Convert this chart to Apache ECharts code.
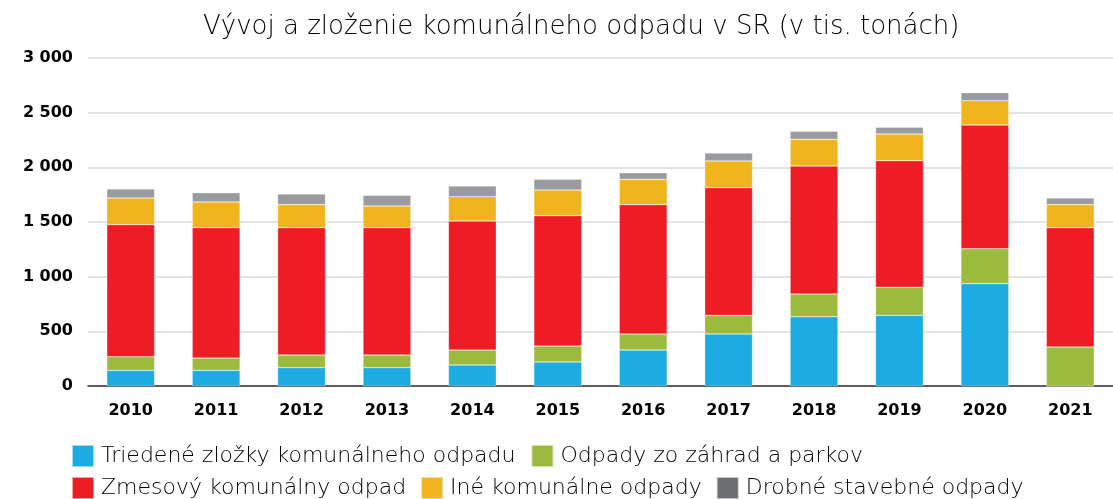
<!DOCTYPE html>
<html>
<head>
<meta charset="utf-8">
<script src="https://cdn.jsdelivr.net/npm/echarts@6/dist/echarts.min.js"></script>
<style>
  html, body { margin: 0; padding: 0; background: #fff; }
  #main { width: 1113px; height: 499px; }
</style>
</head>
<body>
<div id="main"></div>
<script>
var years = ['2010', '2011', '2012', '2013', '2014', '2015', '2016', '2017', '2018', '2019', '2020', '2021'];
// v tis. tonách
var triedene = [143, 143, 168, 168, 192, 220, 329, 476, 634, 646, 936, 0];
var zahrady = [125, 113, 116, 116, 137, 146, 147, 170, 208, 257, 320, 357];
var zmesovy = [1208, 1192, 1164, 1164, 1180, 1192, 1183, 1168, 1170, 1158, 1131, 1091];
var ine = [244, 235, 211, 198, 223, 235, 231, 244, 244, 244, 223, 211];
var drobne = [82, 85, 97, 98, 97, 97, 61, 73, 73, 61, 73, 61];

var names = ['Triedené zložky komunálneho odpadu', 'Odpady zo záhrad a parkov',
  'Zmesový komunálny odpad', 'Iné komunálne odpady', 'Drobné stavebné odpady'];
var colors = ['#1DABE2', '#9BBB3F', '#EE1C25', '#F0B41F', '#999B9E'];
var values = [triedene, zahrady, zmesovy, ine, drobne];

var myChart = echarts.init(document.getElementById('main'));

var legendText = { fontFamily: 'DejaVu Sans', fontWeight: 300, fontSize: 22, color: '#000', padding: [0, 0, 0, 2] };

var option = {
  animation: false,
  title: {
    text: 'Vývoj a zloženie komunálneho odpadu v SR (v tis. tonách)',
    left: 198,
    top: 9,
    textStyle: { fontFamily: 'DejaVu Sans', fontWeight: 300, fontSize: 26, color: '#000' }
  },
  legend: [{
    left: 71, top: 444, padding: 0, itemWidth: 22, itemHeight: 22, itemGap: 15,
    icon: 'rect', textStyle: legendText,
    data: [names[0], names[1]]
  }, {
    left: 71, top: 476, padding: 0, itemWidth: 22, itemHeight: 22, itemGap: 14,
    icon: 'rect', textStyle: legendText,
    data: [names[2], names[3], { name: names[4], itemStyle: { color: '#6D6E71' } }]
  }],
  grid: { left: 88, right: -5, top: 58, bottom: 113 },
  xAxis: {
    type: 'category',
    data: years,
    axisTick: { show: false },
    axisLine: { lineStyle: { color: '#333', width: 1.5 } },
    axisLabel: { fontFamily: 'DejaVu Sans', fontWeight: 'bold', fontSize: 16, color: '#000', margin: 17 }
  },
  yAxis: {
    type: 'value',
    min: 0, max: 3000, interval: 500,
    axisLabel: {
      fontFamily: 'DejaVu Sans', fontWeight: 'bold', fontSize: 16, color: '#000', margin: 15,
      formatter: function (v) { return String(v).replace(/\B(?=(\d{3})+(?!\d))/g, ' '); }
    },
    splitLine: { lineStyle: { color: '#DADADA', width: 1.5 } }
  },
  series: values.map(function (d, i) {
    return {
      name: names[i],
      type: 'bar',
      stack: 'total',
      barCategoryGap: '44%',
      data: d,
      itemStyle: { color: colors[i], borderColor: 'rgba(255,255,255,0.6)', borderWidth: 0.5 }
    };
  })
};

myChart.setOption(option);
</script>
</body>
</html>
